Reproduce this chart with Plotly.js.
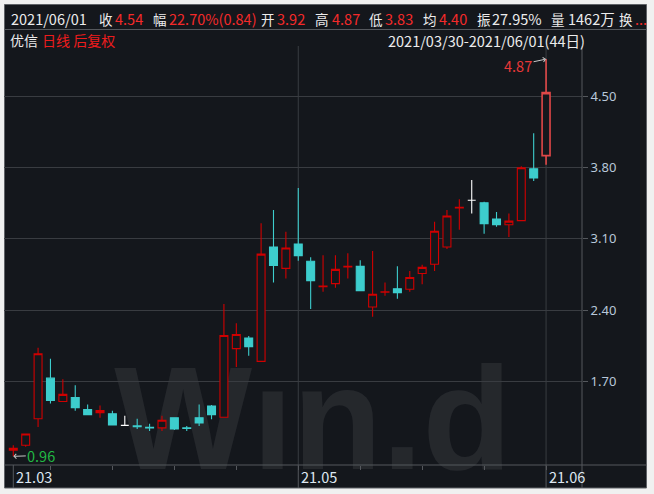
<!DOCTYPE html>
<html><head><meta charset="utf-8">
<script src="https://cdn.plot.ly/plotly-3.0.1.min.js"></script>
<style>html,body{margin:0;padding:0;background:#f0f0f0;}#chart{width:654px;height:494px;}</style>
</head><body><div id="chart"></div>
<script>
// ---------- DATA ----------
const dates = ['2021-03-30','2021-03-31','2021-04-01','2021-04-05','2021-04-06','2021-04-07','2021-04-08','2021-04-09',
  '2021-04-12','2021-04-13','2021-04-14','2021-04-15','2021-04-16','2021-04-19','2021-04-20','2021-04-21','2021-04-22','2021-04-23',
  '2021-04-26','2021-04-27','2021-04-28','2021-04-29','2021-04-30','2021-05-03','2021-05-04','2021-05-05','2021-05-06','2021-05-07',
  '2021-05-10','2021-05-11','2021-05-12','2021-05-13','2021-05-14','2021-05-17','2021-05-18','2021-05-19','2021-05-20','2021-05-21',
  '2021-05-24','2021-05-25','2021-05-26','2021-05-27','2021-05-28','2021-06-01'];
const openP  = [1.02,1.07,1.33,1.73,1.50,1.54,1.42,1.39,1.38,1.265,1.26,1.245,1.24,1.34,1.24,1.34,1.455,1.345,2.02,2.125,1.895,3.02,2.81,3.05,2.88,2.63,2.66,2.825,2.83,2.43,2.575,2.61,2.605,2.76,2.85,3.02,3.405,3.48,3.455,3.295,3.24,3.28,3.79,3.92];
const highP  = [1.07,1.18,2.03,1.92,1.72,1.66,1.47,1.46,1.41,1.36,1.33,1.28,1.36,1.345,1.26,1.47,1.465,2.46,2.27,2.145,3.255,3.385,3.17,3.60,2.92,2.94,2.94,2.96,2.89,2.98,2.67,2.83,2.785,2.845,3.27,3.385,3.49,3.68,3.465,3.365,3.35,3.815,4.14,4.87];
const lowP   = [0.96,1.055,1.25,1.48,1.50,1.41,1.37,1.34,1.27,1.265,1.23,1.21,1.21,1.22,1.21,1.26,1.325,1.345,1.84,1.95,1.895,2.67,2.71,2.885,2.41,2.58,2.62,2.71,2.59,2.335,2.54,2.51,2.58,2.655,2.785,3.00,3.19,3.35,3.15,3.22,3.12,3.28,3.67,3.83];
const closeP = [1.04,1.18,1.97,1.51,1.57,1.44,1.37,1.41,1.27,1.265,1.253,1.24,1.315,1.23,1.235,1.29,1.37,2.15,2.16,2.04,2.95,2.84,3.01,2.935,2.69,2.635,2.80,2.83,2.59,2.555,2.58,2.57,2.72,2.82,3.175,3.325,3.41,3.48,3.25,3.24,3.275,3.80,3.70,4.54];
const yTicks = [1.70, 2.40, 3.10, 3.80, 4.50];
const weekTicks = ['2021-04-05','2021-04-12','2021-04-19','2021-04-26','2021-05-03','2021-05-10','2021-05-17','2021-05-24','2021-06-01'];
const monthStarts = ['2021-03-30','2021-05-03','2021-06-01'];
const monthLabels = ['21.03','21.05','21.06'];
const headerTexts = ['2021/06/01','收','4.54','幅','22.70%(0.84)','开','3.92','高','4.87','低','3.83','均','4.40','振','27.95%','量','1462万','换','...'];
const headerIsValue = [0,0,1,0,1,0,1,0,1,0,1,0,1,0,0,0,0,0,1];
const titleName = '优信';
const titleMode = '日线 后复权';
const rangeText = '2021/03/30-2021/06/01(44日)';
const maxLabel = '4.87';
const minLabel = '0.96';
const watermark = 'W\u0131n.d';

// ---------- STYLE / LAYOUT ----------
const W = 654, H = 494;
const L = 4, R = 72, T = 48, B = 29;
const PW = W - L - R, PH = H - T - B;
const px = x => (x - L) / PW;
const py = y => (H - B - y) / PH;
const BG = '#14171c', OUTER = '#f0f0f0';
const RED = '#d00000', CYAN = '#3dcdcd', LASTRED = '#e04848';
const TXT = '#ececec', VRED = '#f42a2a';
const FONT = 'Noto Sans CJK SC, Noto Sans, sans-serif';
const headerX = [9,97,113,151,167,259,275,313,330,367,383,421,437,475,490,549,566,617,633];

const last = dates.length - 1;
function subset(pred) {
  const o = {x: [], open: [], high: [], low: [], close: []};
  dates.forEach((d, i) => { if (pred(i)) { o.x.push(d); o.open.push(openP[i]); o.high.push(highP[i]); o.low.push(lowP[i]); o.close.push(closeP[i]); } });
  return o;
}
function candle(sub, inc, dec, incFill, lw) {
  return Object.assign({type: 'candlestick', hoverinfo: 'skip', showlegend: false, whiskerwidth: 0,
    increasing: {line: {color: inc, width: lw}, fillcolor: incFill},
    decreasing: {line: {color: dec, width: lw}, fillcolor: dec}}, sub);
}
const traces = [
  candle(subset(i => i !== last && openP[i] !== closeP[i]), RED, CYAN, BG, 1.1),
  candle(subset(i => i !== last && openP[i] === closeP[i]), '#ffffff', '#ffffff', BG, 1.1),
  candle(subset(i => i === last), LASTRED, LASTRED, BG, 1.6)
];

const GRID = '#393c41', LINE = '#55585d', FRAME = '#5f6267';
const shapes = [
  {type: 'rect', xref: 'paper', yref: 'paper', x0: px(4.5), x1: px(646.5), y0: py(488), y1: py(4.5), layer: 'below',
   line: {color: FRAME, width: 1}, fillcolor: BG},
  {type: 'rect', xref: 'paper', yref: 'paper', x0: px(313 - 200), x1: px(313 + 200), y0: py(404 + 60), y1: py(404 - 60), layer: 'below',
   line: {width: 0}, fillcolor: 'rgba(0,0,0,0)',
   label: {text: watermark, textposition: 'middle center',
     font: {family: 'Liberation Sans', size: 146, weight: 'bold', color: 'rgba(255,255,255,0.075)'}}},
  {type: 'line', xref: 'paper', yref: 'paper', x0: px(4.5), x1: px(646.5), y0: py(29.5), y1: py(29.5), line: {color: LINE, width: 1}},
  {type: 'line', xref: 'paper', yref: 'paper', x0: px(4.5), x1: px(646.5), y0: 0, y1: 0, line: {color: LINE, width: 1}},
  {type: 'line', xref: 'paper', yref: 'paper', x0: 1, x1: 1, y0: py(488), y1: py(46), line: {color: LINE, width: 1}}
];
monthStarts.forEach((d, k) => {
  if (k > 0) shapes.push({type: 'line', xref: 'x', yref: 'paper', x0: d, x1: d, y0: 0, y1: py(46), line: {color: GRID, width: 1}, layer: 'below'});
  shapes.push({type: 'line', xref: 'x', yref: 'paper', x0: d, x1: d, y0: py(488), y1: 0, line: {color: LINE, width: 1}});
});

const annotations = [];
headerTexts.forEach((t, i) => annotations.push({xref: 'paper', yref: 'paper', x: px(headerX[i]), y: py(19), xanchor: 'left', yanchor: 'middle',
  text: t, showarrow: false, font: {family: FONT, size: (/^[\u4e00-\u9fff]$/.test(t) ? 13.5 : 14.5), color: headerIsValue[i] ? VRED : TXT}}));
annotations.push({xref: 'paper', yref: 'paper', x: px(8), y: py(40.5), xanchor: 'left', yanchor: 'middle', text: titleName, showarrow: false, font: {family: FONT, size: 14, color: TXT}});
annotations.push({xref: 'paper', yref: 'paper', x: px(40), y: py(40.5), xanchor: 'left', yanchor: 'middle', text: titleMode, showarrow: false, font: {family: FONT, size: 14, color: '#ee1c1c'}});
annotations.push({xref: 'paper', yref: 'paper', x: px(587), y: py(40.5), xanchor: 'right', yanchor: 'middle', text: rangeText, showarrow: false, font: {family: FONT, size: 14.5, color: TXT}});
monthStarts.forEach((d, k) => annotations.push({xref: 'x', yref: 'paper', x: d, y: py(476), xanchor: 'left', yanchor: 'middle', xshift: 1,
  text: monthLabels[k], showarrow: false, font: {family: FONT, size: 14.5, color: '#dfe8f2'}}));
annotations.push({xref: 'x', yref: 'y', x: dates[last], y: Math.max(...highP), text: maxLabel, showarrow: true, ax: -28, ay: 6,
  arrowhead: 4, arrowsize: 0.9, arrowwidth: 1, arrowcolor: '#c8c8c8', font: {family: FONT, size: 14.5, color: '#e83838'}});
annotations.push({xref: 'x', yref: 'y', x: dates[0], y: Math.min(...lowP), text: minLabel, showarrow: true, ax: 28, ay: -1,
  arrowhead: 4, arrowsize: 0.9, arrowwidth: 1, arrowcolor: '#c8c8c8', font: {family: FONT, size: 14.5, color: '#22b844'}});

const layout = {
  width: W, height: H, margin: {l: L, r: R, t: T, b: B},
  paper_bgcolor: OUTER, plot_bgcolor: 'rgba(0,0,0,0)',
  boxgap: 0.2, boxgroupgap: 0.2,
  showlegend: false, dragmode: false, hovermode: false,
  xaxis: {type: 'category', categoryorder: 'array', categoryarray: dates, range: [-0.75, 45.9],
    rangeslider: {visible: false}, tickvals: weekTicks, ticks: 'outside', ticklen: 4, tickcolor: LINE,
    showticklabels: false, showgrid: false, showline: false, zeroline: false, fixedrange: true},
  yaxis: {range: [0.875, 4.979], side: 'right', tickvals: yTicks, ticktext: yTicks.map(v => v.toFixed(2)),
    ticks: 'outside', ticklen: 5, tickcolor: LINE, showgrid: true, gridcolor: GRID, gridwidth: 1,
    showline: false, zeroline: false, fixedrange: true,
    tickfont: {family: 'Noto Sans, sans-serif', size: 13, color: '#b8c8da'}},
  shapes: shapes, annotations: annotations
};
Plotly.newPlot('chart', traces, layout, {staticPlot: true, displayModeBar: false});
</script></body></html>
